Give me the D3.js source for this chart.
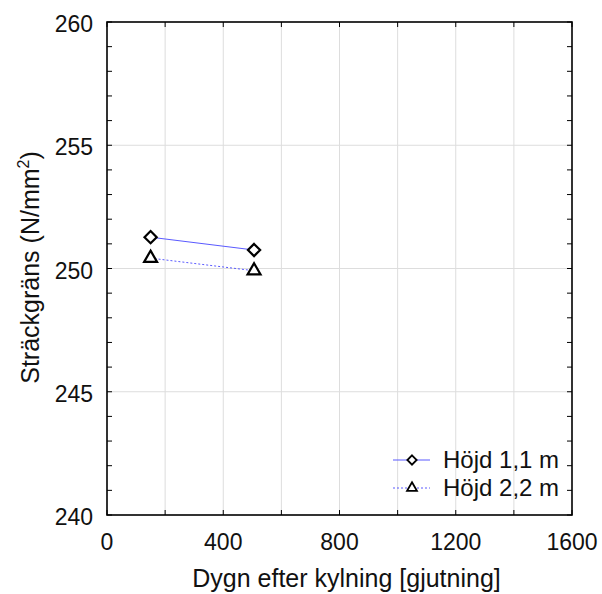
<!DOCTYPE html>
<html>
<head>
<meta charset="utf-8">
<script src="https://cdn.jsdelivr.net/npm/d3@7"></script>
<style>
  body { margin: 0; background: #fff; }
  text { font-family: "Liberation Sans", Arial, sans-serif; fill: #111; }
</style>
</head>
<body>
<div id="chart"></div>
<script>
// data
const days = [150, 506];
const hojd11 = [251.27, 250.75];
const hojd22 = [250.42, 249.91];
const seriesNames = ["Höjd 1,1 m", "Höjd 2,2 m"];
const xTicks = [0, 400, 800, 1200, 1600];
const yTicks = [240, 245, 250, 255, 260];

const W = 602, H = 594;
const margin = {top: 22, right: 30, bottom: 79, left: 107};
const width = W - margin.left - margin.right;
const height = H - margin.top - margin.bottom;

const svg = d3.select("#chart").append("svg")
    .attr("width", W)
    .attr("height", H);

const g = svg.append("g")
    .attr("transform", `translate(${margin.left},${margin.top})`);

const x = d3.scaleLinear().domain([0, 1600]).range([0, width]);
const y = d3.scaleLinear().domain([240, 260]).range([height, 0]);

// grid
g.selectAll("line.xgrid")
    .data(d3.range(200, 1600, 200))
    .enter().append("line")
    .attr("x1", d => x(d)).attr("x2", d => x(d))
    .attr("y1", 0).attr("y2", height)
    .attr("stroke", "#ddd").attr("stroke-width", 1);

g.selectAll("line.ygrid")
    .data(yTicks.slice(1, -1))
    .enter().append("line")
    .attr("x1", 0).attr("x2", width)
    .attr("y1", d => y(d)).attr("y2", d => y(d))
    .attr("stroke", "#ddd").attr("stroke-width", 1);

// inward ticks on all four sides
const xMinor = d3.range(0, 1601, 200);
const yMinor = d3.range(240, 261, 1);
const tk = 5;
g.selectAll("line.xb").data(xMinor).enter().append("line")
    .attr("x1", d => x(d)).attr("x2", d => x(d))
    .attr("y1", height).attr("y2", height - tk)
    .attr("stroke", "#000");
g.selectAll("line.xt").data(xMinor).enter().append("line")
    .attr("x1", d => x(d)).attr("x2", d => x(d))
    .attr("y1", 0).attr("y2", tk)
    .attr("stroke", "#000");
g.selectAll("line.yl").data(yMinor).enter().append("line")
    .attr("x1", 0).attr("x2", tk)
    .attr("y1", d => y(d)).attr("y2", d => y(d))
    .attr("stroke", "#000");
g.selectAll("line.yr").data(yMinor).enter().append("line")
    .attr("x1", width).attr("x2", width - tk)
    .attr("y1", d => y(d)).attr("y2", d => y(d))
    .attr("stroke", "#000");

// frame
g.append("rect")
    .attr("width", width).attr("height", height)
    .attr("fill", "none").attr("stroke", "#000").attr("stroke-width", 1.6);

// tick labels
g.selectAll("text.xl").data(xTicks).enter().append("text")
    .attr("x", d => x(d)).attr("y", height + 35)
    .attr("text-anchor", "middle")
    .style("font-size", "23px")
    .text(d => d);
g.selectAll("text.yl").data(yTicks).enter().append("text")
    .attr("x", -14).attr("y", d => y(d) + 10)
    .attr("text-anchor", "end")
    .style("font-size", "23px")
    .text(d => d);

// axis titles
g.append("text")
    .attr("x", (188 + 505) / 2 - margin.left).attr("y", height + 72)
    .attr("text-anchor", "middle")
    .style("font-size", "25px")
    .text("Dygn efter kylning [gjutning]");

const yt = g.append("text")
    .attr("transform", `translate(-68,${(148 + 387) / 2 - margin.top}) rotate(-90)`)
    .attr("text-anchor", "middle")
    .style("font-size", "25px");
yt.append("tspan").text("Sträckgräns (N/mm");
yt.append("tspan").attr("dy", -10).style("font-size", "16px").text("2");
yt.append("tspan").attr("dy", 10).text(")");

// lines
const line = d3.line().x(d => x(d[0])).y(d => y(d[1]));
const s1 = days.map((d, i) => [d, hojd11[i]]);
const s2 = days.map((d, i) => [d, hojd22[i]]);

g.append("path").datum(s1).attr("d", line)
    .attr("fill", "none").attr("stroke", "#5a5aff").attr("stroke-width", 1);
g.append("path").datum(s2).attr("d", line)
    .attr("fill", "none").attr("stroke", "#5a5aff").attr("stroke-width", 1)
    .attr("stroke-dasharray", "2,2");

const diamond = d3.symbol().type(d3.symbolDiamond2).size(95);
const triangle = d3.symbol().type(d3.symbolTriangle2).size(120);

g.selectAll("path.dia").data(s1).enter().append("path")
    .attr("d", diamond)
    .attr("transform", d => `translate(${x(d[0])},${y(d[1])})`)
    .attr("fill", "#fff").attr("stroke", "#000").attr("stroke-width", 2.2);
g.selectAll("path.tri").data(s2).enter().append("path")
    .attr("d", triangle)
    .attr("transform", d => `translate(${x(d[0])},${y(d[1])})`)
    .attr("fill", "#fff").attr("stroke", "#000").attr("stroke-width", 2.2);

// legend
const legend = g.append("g").attr("transform", `translate(${393 - margin.left},${460 - margin.top})`);
[0, 1].forEach(i => {
    const ly = i * 28;
    legend.append("line")
        .attr("x1", 0).attr("x2", 37).attr("y1", ly).attr("y2", ly)
        .attr("stroke", "#5a5aff").attr("stroke-width", 1)
        .attr("stroke-dasharray", i === 1 ? "2,2" : null);
    legend.append("path")
        .attr("d", i === 0 ? d3.symbol().type(d3.symbolDiamond2).size(55)()
                            : d3.symbol().type(d3.symbolTriangle2).size(70)())
        .attr("transform", `translate(19,${ly})`)
        .attr("fill", "#fff").attr("stroke", "#000").attr("stroke-width", 1.8);
    legend.append("text")
        .attr("x", 50).attr("y", ly + 8)
        .style("font-size", "24px")
        .text(seriesNames[i]);
});
</script>
</body>
</html>
